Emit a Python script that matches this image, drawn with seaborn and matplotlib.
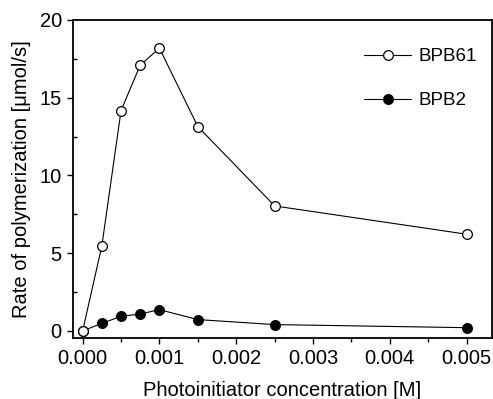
import matplotlib
matplotlib.use("Agg")
import matplotlib.pyplot as plt
import numpy as np
import pandas as pd
import seaborn as sns
from matplotlib.ticker import MultipleLocator

conc = [0.0, 0.00025, 0.0005, 0.00075, 0.001, 0.0015, 0.0025, 0.005]
bpb61 = [0.0, 5.47, 14.17, 17.1, 18.18, 13.14, 8.04, 6.22]
bpb2 = [0.0, 0.49, 0.94, 1.09, 1.37, 0.73, 0.41, 0.21]

sns.set_style("ticks")
plt.rcParams['font.family'] = ['Liberation Sans', 'DejaVu Sans']
plt.rcParams['font.size'] = 14.5
plt.rcParams['text.color'] = 'black'
plt.rcParams['axes.labelcolor'] = 'black'
plt.rcParams['xtick.color'] = 'black'
plt.rcParams['ytick.color'] = 'black'
plt.rcParams['axes.edgecolor'] = 'black'


def main():
    df = pd.DataFrame({'conc': conc * 2,
                       'rate': bpb2 + bpb61,
                       'series': ['BPB2'] * len(conc) + ['BPB61'] * len(conc)})

    fig = plt.figure(figsize=(4.93, 3.99), dpi=100)
    ax = fig.add_axes([0.148, 0.153, 0.85, 0.797])

    styles = {'BPB2': 'black', 'BPB61': 'white'}
    for name in ['BPB2', 'BPB61']:
        sub = df[df['series'] == name]
        sns.lineplot(x='conc', y='rate', data=sub, ax=ax, color='black', lw=0.8,
                     marker='o', markersize=7, markerfacecolor=styles[name],
                     markeredgecolor='black', markeredgewidth=0.9, label=name)

    ax.set_xlim(-0.000126, 0.00533)
    ax.set_ylim(-0.45, 20)
    ax.xaxis.set_major_locator(MultipleLocator(0.001))
    ax.xaxis.set_minor_locator(MultipleLocator(0.0005))
    ax.yaxis.set_major_locator(MultipleLocator(5))
    ax.yaxis.set_minor_locator(MultipleLocator(2.5))
    ax.xaxis.set_major_formatter(plt.FormatStrFormatter('%.3f'))
    ax.tick_params(which='major', direction='out', length=4.5, width=1,
                   labelsize=14.5, pad=3.5)
    ax.tick_params(which='minor', direction='out', length=3, width=1)
    ax.tick_params(axis='y', which='minor', direction='in')
    for s in ax.spines.values():
        s.set_linewidth(1.3)

    ax.set_xlabel('Photoinitiator concentration [M]', fontsize=14.5, labelpad=9)
    ax.set_ylabel('Rate of polymerization [\u03bcmol/s]', fontsize=14.5, labelpad=6)

    handles, labels = ax.get_legend_handles_labels()
    order = [labels.index('BPB61'), labels.index('BPB2')]
    ax.legend([handles[i] for i in order], [labels[i] for i in order],
              loc='upper right', frameon=False, fontsize=13.5, handlelength=2.5,
              handletextpad=0.4, labelspacing=1.45, bbox_to_anchor=(1.005, 0.965))

    fig.savefig('out.png', dpi=100)


if __name__ == "__main__":
    main()
